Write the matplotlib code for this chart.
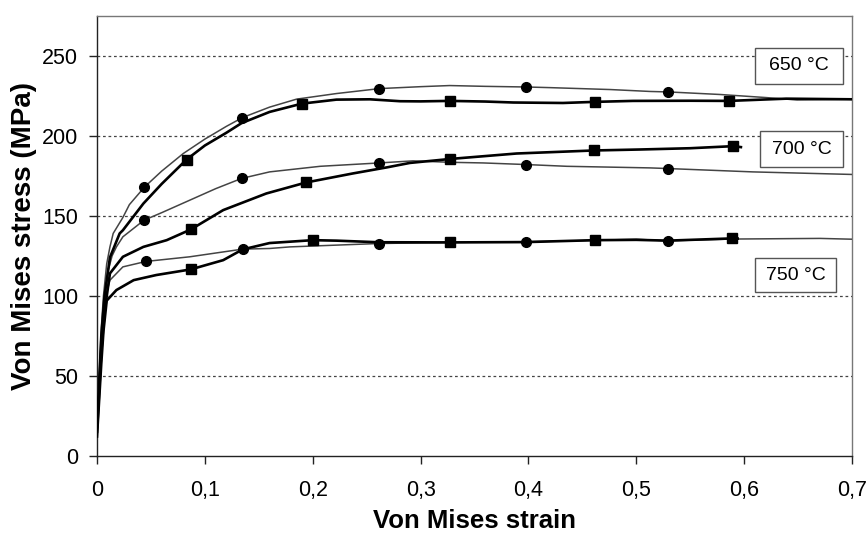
import matplotlib
matplotlib.use("Agg")
import matplotlib.pyplot as plt
from matplotlib.ticker import FixedLocator, FixedFormatter
from matplotlib.patches import Rectangle

plt.rcParams['font.family'] = ['Liberation Sans', 'DejaVu Sans']

# ---- data: measured flow curves (strain, stress MPa) ----
t650_thin_x = [0, 0.002, 0.004, 0.006, 0.009, 0.012, 0.015, 0.024, 0.03, 0.044, 0.06, 0.08, 0.1, 0.12, 0.135, 0.16, 0.185, 0.222, 0.262, 0.3, 0.327, 0.36, 0.398, 0.42, 0.476, 0.513, 0.53, 0.578, 0.62, 0.649, 0.7]
t650_thin_y = [22, 50, 80, 100, 120, 130.6, 139, 149, 157, 168, 178, 189, 198, 206, 211.5, 218, 223, 226.5, 229.6, 230.8, 231.5, 231, 230.6, 230.2, 229, 227.8, 227.5, 225.9, 224, 222.5, 223]
t650_thick_x = [0, 0.002, 0.004, 0.007, 0.012, 0.021, 0.024, 0.043, 0.06, 0.083, 0.1, 0.12, 0.134, 0.16, 0.19, 0.222, 0.253, 0.281, 0.3, 0.327, 0.36, 0.386, 0.432, 0.4617, 0.497, 0.55, 0.586, 0.639, 0.7]
t650_thick_y = [18, 45, 75, 100, 124, 139, 141, 157.7, 170, 185.2, 194, 202, 208, 215, 220.2, 222.7, 222.9, 221.7, 221.6, 221.9, 221.5, 220.9, 220.6, 221.3, 221.9, 222, 221.9, 223.3, 222.9]

t700_thin_x = [0, 0.002, 0.004, 0.007, 0.01, 0.014, 0.018, 0.024, 0.0436, 0.06, 0.086, 0.11, 0.134, 0.16, 0.207, 0.2617, 0.293, 0.3276, 0.358, 0.3977, 0.4355, 0.5127, 0.529, 0.608, 0.7]
t700_thin_y = [20, 48, 75, 100, 115, 125, 130.6, 136.9, 147.3, 152, 159.8, 167, 173.4, 177.5, 181, 183.1, 184.4, 183.5, 183.1, 182.1, 181, 180, 179.6, 177.5, 175.9]
t700_thick_x = [0, 0.002, 0.004, 0.007, 0.012, 0.024, 0.043, 0.0646, 0.087, 0.117, 0.157, 0.194, 0.237, 0.2686, 0.29, 0.3276, 0.389, 0.4608, 0.503, 0.55, 0.59, 0.597]
t700_thick_y = [15, 40, 65, 90, 114, 124.4, 130.6, 134.8, 141.5, 153.6, 164, 170.9, 176.5, 180.3, 183.1, 185.6, 189, 190.9, 191.5, 192.3, 193.6, 193]

t750_thin_x = [0, 0.002, 0.004, 0.006, 0.009, 0.012, 0.024, 0.0454, 0.086, 0.135, 0.16, 0.179, 0.222, 0.261, 0.327, 0.3977, 0.45, 0.5, 0.529, 0.589, 0.6704, 0.7]
t750_thin_y = [20, 45, 70, 90, 102, 109.8, 118.1, 121.5, 124.4, 129.2, 129.6, 130.6, 131.7, 132.7, 133.4, 133.8, 134.5, 135.4, 134.4, 135.5, 135.9, 135.4]
t750_thick_x = [0, 0.002, 0.004, 0.006, 0.009, 0.018, 0.034, 0.055, 0.0868, 0.117, 0.135, 0.16, 0.2, 0.222, 0.261, 0.3276, 0.3977, 0.4617, 0.5, 0.529, 0.589, 0.594]
t750_thick_y = [12, 35, 58, 78, 97, 103.6, 109.8, 113, 116.5, 122.3, 129, 133, 134.8, 134.5, 133.5, 133.4, 133.6, 134.8, 135, 134.5, 135.9, 135.8]

# ---- marker points ----
m650_circ_x = [0.0436, 0.134, 0.2617, 0.398, 0.5297]
m650_circ_y = [168, 211.5, 229.6, 230.6, 227.5]
m650_sq_x = [0.083, 0.190, 0.327, 0.4617, 0.5862]
m650_sq_y = [185.2, 220.2, 221.9, 221.3, 221.9]
m700_circ_x = [0.0436, 0.134, 0.2617, 0.3977, 0.529]
m700_circ_y = [147.3, 173.4, 183.1, 182.1, 179.6]
m700_sq_x = [0.087, 0.194, 0.3276, 0.4608, 0.59]
m700_sq_y = [141.5, 170.9, 185.6, 190.9, 193.6]
m750_circ_x = [0.0454, 0.135, 0.261, 0.3977, 0.529]
m750_circ_y = [121.5, 129.2, 132.7, 133.8, 134.4]
m750_sq_x = [0.0868, 0.2, 0.3276, 0.4617, 0.589]
m750_sq_y = [116.5, 134.8, 133.4, 134.8, 135.9]

labels = ["650 °C", "700 °C", "750 °C"]
label_x = [0.6508, 0.6533, 0.6477]
label_y = [244, 191.7, 112.75]

x_ticks = [0, 0.1, 0.2, 0.3, 0.4, 0.5, 0.6, 0.7]
x_ticklabels = ["0", "0,1", "0,2", "0,3", "0,4", "0,5", "0,6", "0,7"]
y_ticks = [0, 50, 100, 150, 200, 250]

# label box sizes (pixels) – layout only
box_w_px = [88, 83, 81]
box_h_px = [36, 36.5, 34]

fig = plt.figure(figsize=(8.67, 5.35), dpi=100)
ax = fig.add_axes([97/867, 1-455.7/535, (852-97)/867, (455.7-16)/535])
ax.set_xlim(0, 0.7)
ax.set_ylim(0, 275)

thin_kw = dict(color='#444444', lw=1.1, zorder=3)
thick_kw = dict(color='black', lw=1.9, zorder=4)
for xs, ys in [(t650_thin_x, t650_thin_y), (t700_thin_x, t700_thin_y), (t750_thin_x, t750_thin_y)]:
    ax.plot(xs, ys, **thin_kw)
for xs, ys in [(t650_thick_x, t650_thick_y), (t700_thick_x, t700_thick_y), (t750_thick_x, t750_thick_y)]:
    ax.plot(xs, ys, **thick_kw)
for xs, ys in [(m650_circ_x, m650_circ_y), (m700_circ_x, m700_circ_y), (m750_circ_x, m750_circ_y)]:
    ax.plot(xs, ys, 'o', color='black', ms=7, zorder=5, clip_on=False)
for xs, ys in [(m650_sq_x, m650_sq_y), (m700_sq_x, m700_sq_y), (m750_sq_x, m750_sq_y)]:
    ax.plot(xs, ys, 's', color='black', ms=7.5, zorder=5, clip_on=False)

px_per_x = (852 - 97) / 0.7
px_per_y = (455.7 - 16) / 275
for t, tx, ty, bw, bh in zip(labels, label_x, label_y, box_w_px, box_h_px):
    w = bw / px_per_x
    h = bh / px_per_y
    ax.add_patch(Rectangle((tx - w / 2, ty - h / 2), w, h, fc='white', ec='#555555',
                           lw=1.0, zorder=6))
    ax.text(tx, ty, t, fontsize=14, ha='center', va='center', zorder=7)

ax.xaxis.set_major_locator(FixedLocator(x_ticks))
ax.xaxis.set_major_formatter(FixedFormatter(x_ticklabels))
ax.yaxis.set_major_locator(FixedLocator(y_ticks))

for y in y_ticks[1:]:
    ax.axhline(y, color='#444444', lw=0.9, ls=(0, (2.2, 2.2)), zorder=1)

for s in ['left', 'bottom']:
    ax.spines[s].set_color('#222222')
    ax.spines[s].set_linewidth(1.0)
for s in ['top', 'right']:
    ax.spines[s].set_color('#777777')
    ax.spines[s].set_linewidth(1.0)

ax.tick_params(axis='x', direction='out', length=5.5, width=1, pad=12, labelsize=15.5, color='#222222')
ax.tick_params(axis='y', direction='out', length=5.5, width=1, pad=8, labelsize=15.5, color='#222222')

ax.set_xlabel("Von Mises strain", fontsize=18.5, fontweight='bold', labelpad=6)
ax.set_ylabel("Von Mises stress (MPa)", fontsize=20, fontweight='bold')
ax.yaxis.set_label_coords((37 - 97) / 755, 0.5)

fig.savefig("out.png", dpi=100)
